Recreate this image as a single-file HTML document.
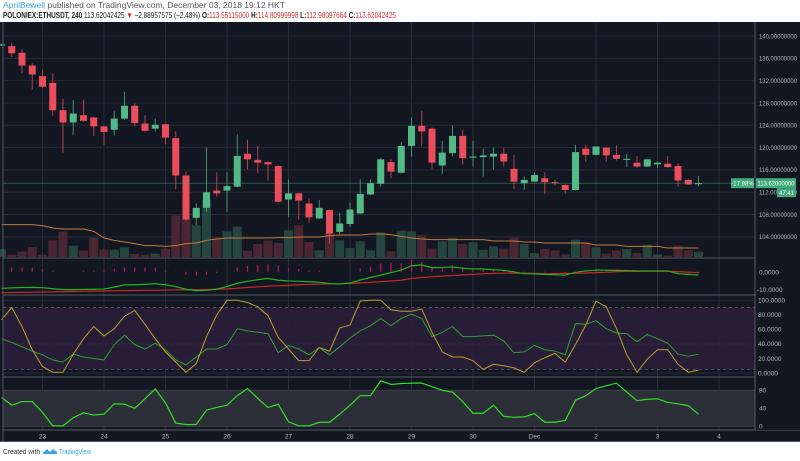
<!DOCTYPE html>
<html><head><meta charset="utf-8"><style>
html,body{margin:0;padding:0;background:#fff;width:800px;height:461px;overflow:hidden}
svg text{font-family:"Liberation Sans",sans-serif}
</style></head><body>
<svg id="c" width="800" height="461" viewBox="0 0 800 461" xmlns="http://www.w3.org/2000/svg">
<rect x="0" y="0" width="800" height="461" fill="#fff"/>
<text x="3" y="8" font-size="8.5" fill="#555"><tspan fill="#3ba5e0">AprilBewell</tspan> published on TradingView.com, December 03, 2018 19:12 HKT</text>
<text x="3" y="18" font-size="8" fill="#222" font-weight="bold" textLength="393" lengthAdjust="spacingAndGlyphs">POLONIEX:ETHUSDT, 240 <tspan font-weight="normal">113.62042425 </tspan><tspan fill="#c62828">▼</tspan><tspan font-weight="normal"> −2.88957575 (−2.48%) </tspan>O:<tspan fill="#d32f2f" font-weight="normal">113.55115000</tspan> H:<tspan fill="#d32f2f" font-weight="normal">114.80999998</tspan> L:<tspan fill="#d32f2f" font-weight="normal">112.98097664</tspan> C:<tspan fill="#d32f2f" font-weight="normal">113.62042425</tspan></text>
<rect x="0" y="22" width="800" height="420" fill="#131722"/>
<g id="grid"></g><g id="panes"></g><g id="marks"></g><g id="axes"></g>
<text x="3" y="454" font-size="7.5" fill="#333" textLength="37" lengthAdjust="spacingAndGlyphs">Created with</text>
<path d="M43 453 l4 -4 l3 3 l3 -3 l4 3 v2 h-14z" fill="#3ba5e0"/>
<text x="59" y="454" font-size="7.5" fill="#3ba5e0" textLength="32" lengthAdjust="spacingAndGlyphs">TradingView</text>
</svg>
<script>
const opens=[138.3,138.2,137.0,134.7,132.8,131.6,126.7,124.5,125.8,125.4,123.8,123.2,125.2,127.5,124.3,123.4,124.2,121.7,115.0,107.4,109.2,112.3,112.3,113.0,118.9,117.8,117.4,116.7,110.7,111.8,110.0,107.3,108.8,104.9,106.3,108.2,111.6,113.5,117.4,115.5,120.3,123.9,123.4,116.8,119.0,122.1,118.2,118.3,118.4,118.9,116.2,113.6,113.9,114.5,113.8,113.3,112.4,119.8,118.7,120.0,118.7,117.8,117.3,116.6,117.0,117.1,116.7,114.2,113.5];
const highs=[138.6,138.8,137.6,135.1,134.0,133.3,128.8,128.5,128.6,125.5,123.9,126.6,130.0,127.9,125.8,125.2,124.3,122.9,115.7,110.0,120.0,115.6,115.6,122.4,121.4,120.3,117.5,116.8,114.3,111.9,110.9,110.6,108.9,108.3,110.1,114.3,114.3,118.1,117.9,121.0,125.4,126.6,123.6,121.2,124.0,123.2,121.2,119.8,120.0,120.0,118.7,114.8,115.6,115.6,114.3,113.4,120.5,120.5,120.2,120.1,120.4,118.9,118.5,118.0,117.5,118.5,117.2,114.3,114.9];
const lows=[138.2,136.2,133.3,130.4,130.7,125.7,119.1,122.3,124.6,122.1,120.5,122.2,125.0,123.8,122.9,122.9,120.6,112.5,106.9,106.1,108.5,111.2,108.5,112.9,116.1,115.4,114.1,110.2,107.6,107.1,106.5,107.2,102.8,104.5,105.8,108.1,111.5,113.0,114.5,115.4,118.4,120.2,116.2,115.3,118.4,117.0,116.7,114.8,116.0,116.6,112.6,112.4,113.8,111.7,113.2,111.7,112.3,117.5,118.6,117.5,117.7,116.5,116.4,116.5,116.4,116.4,113.0,113.3,113.0];
const closes=[138.5,136.9,134.7,133.1,130.9,126.7,124.5,126.1,124.8,123.8,122.8,125.2,127.5,124.4,123.0,124.1,121.8,115.0,107.1,109.2,112.0,111.8,113.1,118.5,117.9,117.3,117.0,110.3,111.8,110.5,107.5,109.2,104.6,106.4,108.9,111.7,113.6,117.9,115.7,120.3,123.9,122.9,117.3,119.1,122.1,118.1,118.4,118.6,118.9,117.5,113.9,114.2,115.1,113.8,113.6,112.4,119.2,118.7,120.2,118.6,118.0,118.0,116.6,117.9,117.3,116.5,114.1,113.4,113.62];
const volumes=[24,7,16,30,7,50,76,34,19,59,22,22,29,9,7,10,25,125,114,95,172,58,77,91,19,39,49,42,80,95,45,20,72,50,27,47,20,74,17,79,77,66,26,47,57,39,44,22,32,26,58,39,12,24,20,8,52,44,29,10,20,24,12,37,8,4,34,20,16];
const volMA=[97,97,97,97,94,87,84,84,84,77,57,50,45,40,34,34,32,34,40,42,50,54,57,57,57,57,57,58,58,60,60,60,64,66,66,66,69,69,67,62,57,54,52,52,52,52,52,52,48,48,48,45,45,42,42,42,42,42,36,36,36,32,32,32,32,27,27,27,27];
const macdLine=[-9.3,-9.0,-8.8,-8.7,-8.9,-9.5,-10.0,-10.0,-9.9,-9.8,-9.7,-8.5,-7.3,-7.2,-7.0,-6.6,-7.2,-8.3,-9.8,-10.6,-10.4,-9.7,-8.2,-6.4,-5.2,-4.3,-3.5,-4.6,-5.0,-5.2,-5.4,-5.8,-6.5,-6.8,-6.2,-4.5,-3.0,-1.6,-0.2,1.3,3.8,4.2,2.7,2.8,3.1,2.3,2.0,1.9,1.5,1.1,0.2,-0.8,-0.9,-1.2,-1.4,-1.6,0,0.8,1.3,1.2,1.1,1.0,0.8,0.8,0.8,0.8,-0.8,-1.2,-1.6];
const signalLine=[-11.8,-11.7,-11.6,-11.5,-11.4,-11.3,-11.2,-11.1,-11.0,-10.9,-10.8,-10.7,-10.6,-10.5,-10.4,-10.4,-10.3,-10.2,-10.1,-10.1,-10.0,-9.8,-9.6,-9.2,-8.8,-8.4,-8.0,-7.8,-7.5,-7.2,-7.0,-6.8,-6.7,-6.6,-6.4,-6.1,-5.8,-5.4,-5.0,-4.6,-3.5,-3.0,-2.6,-2.2,-1.9,-1.5,-1.2,-0.8,-0.6,-0.5,-0.4,-0.5,-0.6,-0.8,-0.7,-0.7,-0.6,-0.4,-0.2,0,0.4,0.5,0.5,0.6,0.6,0.6,0.4,0.1,-0.2];
const macdHist=[0,4,4,4,2.7,1,0,0,1,1,1,3,4,4,4,4,1,-0.5,-3,-4,-3,-1,0,4,5.7,6.7,7.3,6,3.3,2.7,1,1,0,0,0,3.3,5,8.3,9.3,8.3,11.7,10,4,4,6.7,4.7,3.3,2.7,2,1.3,0.7,-0.5,-0.5,-0.7,-0.5,-1,0,1.7,1.3,2,2,1.3,1.3,0.7,0.7,0,-1,-1.5,-1.5];
const stochK=[73,90,64,32,9,1,1,26,47,64,51,61,78,86,67,47,29,15,1,13,50,80,100,100,97,91,79,49,33,17,17,35,30,62,66,99,100,100,87,85,85,88,56,29,22,22,17,5,12,10,7,1,14,21,27,15,39,66,99,91,61,25,1,19,32,32,12,1,4];
const rsiLine=[47,42,36,30,25,18,15,26,22,20,18,39,52,39,33,41,32,18,11,22,33,33,39,61,58,56,54,28,38,33,25,35,25,36,48,58,65,75,65,75,81,75,50,56,64,50,50,51,52,44,28,29,38,32,30,25,68,67,72,61,55,54,43,53,47,41,26,23,26];
const bottomInd=[64,47,55,55,31,1,1,19,30,25,27,50,49,40,61,83,52,7,4,4,36,42,47,68,84,62,42,49,10,1,1,9,9,27,47,68,68,101,93,95,96,96,88,80,76,55,29,29,47,22,20,21,28,9,9,13,58,68,84,90,96,76,57,60,61,53,50,46,27];
const priceTicks=[104,108,112,116,120,124,128,132,136,140];
const dayLabels=["23","24","25","26","27","28","29","30","Dec","2","3","4"];
const oscTicks=[0,20,40,60,80,100];
const oscBands=[90,40,5];
const bottomTicks=[0,40,80];
const macdTicks=[0,-10];

const NS="http://www.w3.org/2000/svg";
const X=k=>1.5+10.25*k;
const priceY=p=>36+(140-p)*5.58;
const volY=v=>257-v/3;
const macdY=v=>272.3-v*1.73;
const histY=v=>271.7-v;
const oscY=v=>373-v*0.727;
const botY=v=>426.3-v*0.45;
const UP="#53b987",DN="#eb4d5c";
function el(tag,attrs,parent,txt){const e=document.createElementNS(NS,tag);for(const a in attrs)e.setAttribute(a,attrs[a]);if(txt!==undefined)e.textContent=txt;document.getElementById(parent).appendChild(e);return e;}

el("rect",{x:3,y:oscY(oscBands[0]),width:752,height:oscY(oscBands[2])-oscY(oscBands[0]),fill:"#2a1e3a",opacity:0.9},"panes");
el("rect",{x:3,y:botY(80),width:752,height:botY(0)-botY(80),fill:"#2c2f38"},"panes");
priceTicks.forEach(p=>{const l=el("line",{x1:3,x2:755,y1:priceY(p),y2:priceY(p),stroke:"#262a35","stroke-width":1},"grid");

});
oscTicks.forEach(v=>{el("line",{x1:3,x2:755,y1:oscY(v),y2:oscY(v),stroke:"#2c2838","stroke-width":1},"grid");});
dayLabels.forEach((d,i)=>{const x=X(4+6*i);
const l=el("line",{x1:x,x2:x,y1:22,y2:430,stroke:"#2a2e39","stroke-width":1},"grid");


const t=el("text",{x:x,y:438.5,"font-size":6.5,fill:"#b2b5be","text-anchor":"middle"},"axes",d);

});
oscBands.forEach(v=>{el("line",{x1:3,x2:755,y1:oscY(v),y2:oscY(v),stroke:"#8a8a96","stroke-width":0.8,"stroke-dasharray":"3,3"},"grid");});
bottomTicks.forEach(v=>{el("line",{x1:3,x2:755,y1:botY(v),y2:botY(v),stroke:"#555964","stroke-width":0.8},"grid");});
[258,295,377,430].forEach(y=>{const l=el("line",{x1:3,x2:800,y1:y,y2:y,stroke:"#555964","stroke-width":1},"axes");

});
el("line",{x1:3,x2:3,y1:22,y2:442,stroke:"#555964"},"axes");
el("line",{x1:755,x2:755,y1:22,y2:430,stroke:"#555964"},"axes");
el("line",{x1:0,x2:800,y1:441.5,y2:441.5,stroke:"#555964"},"axes");

volumes.forEach((v,k)=>{const up=closes[k]>=opens[k];
const r=el("rect",{x:X(k)-4.5,y:volY(v),width:9,height:257-volY(v),fill:up?"#24463f":"#4a2632"},"marks");

});
const vm=el("polyline",{points:volMA.map((v,k)=>X(k)+","+volY(v)).join(" "),fill:"none",stroke:"#c07a3a","stroke-width":1},"marks");


opens.forEach((o,k)=>{const c=closes[k],up=c>=o,col=up?UP:DN,x=X(k);
const w=el("line",{x1:x,x2:x,y1:priceY(highs[k]),y2:priceY(lows[k]),stroke:col,"stroke-width":1,opacity:0.75},"marks");


const top=priceY(Math.max(o,c)),bot=priceY(Math.min(o,c));
const b=el("rect",{x:x-3.5,y:top,width:7,height:Math.max(1,bot-top),fill:col},"marks");

});
const lp=closes[closes.length-1];
el("line",{x1:3,x2:755,y1:priceY(lp),y2:priceY(lp),stroke:"#53b987","stroke-width":0.6,opacity:0.6},"marks");

macdHist.forEach((v,k)=>{const y0=histY(0),y1=histY(v);
const h=el("line",{x1:X(k),x2:X(k),y1:y0,y2:y1,stroke:"#c2185b","stroke-width":1.2},"marks");

});
const sl=el("polyline",{points:signalLine.map((v,k)=>X(k)+","+macdY(v)).join(" "),fill:"none",stroke:"#c62828","stroke-width":1.2},"marks");


const ml=el("polyline",{points:macdLine.map((v,k)=>X(k)+","+macdY(v)).join(" "),fill:"none",stroke:"#22b322","stroke-width":1.2},"marks");


const rl=el("polyline",{points:rsiLine.map((v,k)=>X(k)+","+oscY(v)).join(" "),fill:"none",stroke:"#2fa02f","stroke-width":1},"marks");


const sk=el("polyline",{points:stochK.map((v,k)=>X(k)+","+oscY(v)).join(" "),fill:"none",stroke:"#b8a028","stroke-width":1},"marks");


const bl=el("polyline",{points:bottomInd.map((v,k)=>X(k)+","+botY(v)).join(" "),fill:"none",stroke:"#33dd22","stroke-width":1.2},"marks");



el("rect",{x:756,y:22,width:44,height:408,fill:"#131722"},"axes");
priceTicks.forEach(p=>{const t=el("text",{x:759,y:priceY(p)+2.3,"font-size":6.5,fill:"#b2b5be",textLength:38,lengthAdjust:"spacingAndGlyphs"},"axes",p.toFixed(8));

});
macdTicks.forEach(v=>{const t=el("text",{x:v<0?757:759,y:macdY(v)+2.3,"font-size":6.5,fill:"#b2b5be"},"axes",v.toFixed(4));

});
oscTicks.forEach(v=>{const t=el("text",{x:758,y:oscY(v)+2.3,"font-size":6.5,fill:"#b2b5be"},"axes",v.toFixed(4));

});
bottomTicks.forEach(v=>{const t=el("text",{x:759,y:botY(v)+2.3,"font-size":6.5,fill:"#b2b5be"},"axes",String(v));

});
const ly=priceY(lp);
el("rect",{x:731,y:ly-5,width:23,height:10,fill:"#3fa97a"},"axes");
el("text",{x:742.5,y:ly+2.3,"font-size":6,fill:"#fff","text-anchor":"middle"},"axes","-17.98%");
el("rect",{x:756,y:ly-5,width:40,height:10,fill:"#3fa97a"},"axes");
const lt=el("text",{x:757.5,y:ly+2.3,"font-size":6,fill:"#fff",textLength:37,lengthAdjust:"spacingAndGlyphs"},"axes",lp.toFixed(8));


el("rect",{x:777,y:ly+5,width:19,height:9,fill:"#3fa97a"},"axes");
el("text",{x:786.5,y:ly+12,"font-size":6,fill:"#fff","text-anchor":"middle"},"axes","47:41");
</script>
</body></html>
